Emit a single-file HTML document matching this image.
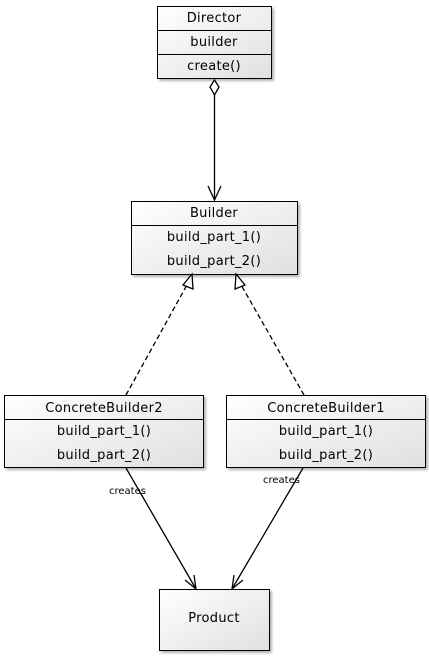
<!DOCTYPE html>
<html><head><style>
body{margin:0;width:429px;height:656px;background:#fff;overflow:hidden}
svg{font-family:"DejaVu Sans","Liberation Sans",sans-serif}
</style></head><body>
<svg width="429" height="656" viewBox="0 0 429 656">
<defs>
<linearGradient id="g" x1="0" y1="0" x2="1" y2="1"><stop offset="0" stop-color="#ffffff"/><stop offset="1" stop-color="#e0e0e0"/></linearGradient>
<filter id="s"><feDropShadow dx="2" dy="2" stdDeviation="1.2" flood-color="#000" flood-opacity="0.3"/></filter>
</defs>
<g stroke="#000" stroke-width="1" fill="url(#g)" filter="url(#s)">
<rect x="157.5" y="6.5" width="114" height="72"/>
<rect x="131.5" y="201.5" width="166" height="73"/>
<rect x="4.5" y="395.5" width="199" height="72"/>
<rect x="226.5" y="395.5" width="199" height="72"/>
<rect x="159.5" y="589.5" width="110" height="61"/>
</g>
<g stroke="#000" stroke-width="1">
<line x1="157" y1="30.5" x2="271" y2="30.5"/>
<line x1="157" y1="54.5" x2="271" y2="54.5"/>
<line x1="131" y1="225.5" x2="297" y2="225.5"/>
<line x1="4" y1="419.5" x2="203" y2="419.5"/>
<line x1="226" y1="419.5" x2="425" y2="419.5"/>
</g>
<g font-size="13" letter-spacing="0.3" text-anchor="middle" fill="#000">
<text x="214" y="22">Director</text>
<text x="214" y="46">builder</text>
<text x="214" y="70">create()</text>
<text x="214" y="217">Builder</text>
<text x="214" y="241">build_part_1()</text>
<text x="214" y="265">build_part_2()</text>
<text x="104" y="412">ConcreteBuilder2</text>
<text x="104" y="435">build_part_1()</text>
<text x="104" y="459">build_part_2()</text>
<text x="326" y="412">ConcreteBuilder1</text>
<text x="326" y="435">build_part_1()</text>
<text x="326" y="459">build_part_2()</text>
<text x="214" y="622">Product</text>
</g>
<g stroke="#000" stroke-width="1.3" fill="none">
<path d="M214.5 80 L219 87 L214.5 95 L210 87 Z" fill="#fff"/>
<line x1="214.5" y1="95" x2="214.5" y2="200"/>
<path d="M208 186 L214.5 200 L221 186"/>
<line x1="126" y1="395" x2="188" y2="283" stroke-dasharray="5,3"/>
<line x1="304" y1="395" x2="240" y2="283" stroke-dasharray="5,3"/>
<path d="M183 285 L192 274 L193 289 Z" fill="#fff"/>
<path d="M235 289 L236 274 L245 285 Z" fill="#fff"/>
<line x1="126" y1="468" x2="196" y2="589"/>
<path d="M185 580 L196 589 L194 575"/>
<line x1="303" y1="468" x2="232" y2="589"/>
<path d="M234 575 L232 589 L243 580"/>
</g>
<g font-size="10" fill="#000">
<text x="109" y="494">creates</text>
<text x="263" y="483">creates</text>
</g>
</svg>
</body></html>
